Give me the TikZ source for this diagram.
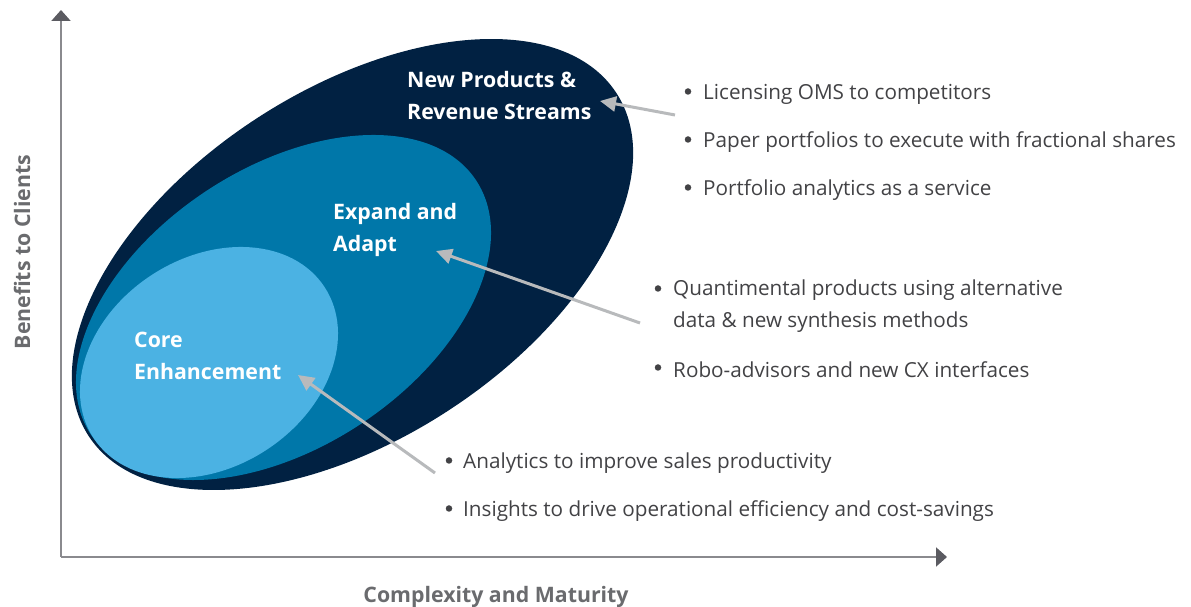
\documentclass[tikz,border=0pt]{standalone}
\usepackage{fontspec}
\setmainfont{Open Sans}
\usetikzlibrary{arrows.meta}
\definecolor{navy}{HTML}{012142}
\definecolor{midblue}{HTML}{0077A9}
\definecolor{lightblue}{HTML}{4BB2E3}
\definecolor{axisgray}{HTML}{8A8A8E}
\definecolor{headgray}{HTML}{5B5B61}
\definecolor{arrowgray}{HTML}{B8BABC}
\definecolor{textgray}{HTML}{424245}
\definecolor{labelgray}{HTML}{6A6B6E}
\tikzset{
  axisline/.style={draw=axisgray, line width=2pt, -{Triangle[length=11pt,width=19pt,color=headgray,fill=headgray]}},
  callout/.style={draw=arrowgray, line width=3pt, -{Triangle[length=16pt,width=15pt]}},
  bubble/.style={text=white, font=\fontsize{21.3}{32}\selectfont\bfseries, align=left, inner sep=0pt, anchor=west},
  item/.style={text=textgray, font=\fontsize{20.7}{32}\selectfont, align=left, inner sep=0pt, anchor=west},
  dot/.style={circle, fill=textgray, inner sep=0pt, minimum size=6.5pt},
  axislabel/.style={text=labelgray, font=\fontsize{21.3}{24}\selectfont\bfseries, inner sep=0pt}
}
\begin{document}
\begin{tikzpicture}[x=1pt,y=1pt]
\useasboundingbox (0,0) rectangle (1191,607);
% ellipses
\fill[navy, shift={(352.5,342.5)}, rotate=33] (0,0) ellipse [x radius=314.7, y radius=174.7];
\fill[midblue, shift={(283.5,299.5)}, rotate=33.4] (0,0) ellipse [x radius=230.8, y radius=139.8];
\fill[lightblue, shift={(209,244.5)}, rotate=33] (0,0) ellipse [x radius=138, y radius=104.6];
% axes
\coordinate (origin) at (61,50);
\coordinate (ytip) at (61,597);
\coordinate (xtip) at (947,50);
\draw[axisline] (origin) -- (ytip);
\draw[axisline] (origin) -- (xtip);
\node[axislabel] (xlabel) at (496,10) {Complexity and Maturity};
\node[axislabel, rotate=90] (ylabel) at (22,355) {Benefits to Clients};
% bubble labels
\node[bubble] (newprod) at (407,511) {New Products \&\\Revenue Streams};
\node[bubble] (expand) at (333,377) {Expand and\\Adapt};
\node[bubble] (core) at (134,251) {Core\\Enhancement};
% group 1
\node[dot] (b1a) at (688,515.5) {};
\node[item] (t1a) at (703,513) {Licensing OMS to competitors};
\node[dot] (b1b) at (688,467.5) {};
\node[item] (t1b) at (703,465) {Paper portfolios to execute with fractional shares};
\node[dot] (b1c) at (688,419.5) {};
\node[item] (t1c) at (703,417) {Portfolio analytics as a service};
% group 2
\node[dot] (b2a) at (658,318.5) {};
\node[item, anchor=north west] (t2a) at (673,327) {Quantimental products using alternative\\data \& new synthesis methods};
\node[dot] (b2b) at (658,239.5) {};
\node[item] (t2b) at (673,237) {Robo-advisors and new CX interfaces};
% group 3
\node[dot] (b3a) at (449,146.5) {};
\node[item] (t3a) at (463,144) {Analytics to improve sales productivity};
\node[dot] (b3b) at (449,98.5) {};
\node[item] (t3b) at (463,96) {Insights to drive operational efficiency and cost-savings};
% callout arrows
\coordinate (a1tail) at (675,492);
\coordinate (a1tip) at (600,506);
\coordinate (a2tail) at (640,284);
\coordinate (a2tip) at (436,356);
\coordinate (a3tail) at (435,134);
\coordinate (a3tip) at (298,232);
\draw[callout] (a1tail) -- (a1tip);
\draw[callout] (a2tail) -- (a2tip);
\draw[callout] (a3tail) -- (a3tip);
\end{tikzpicture}
\end{document}
